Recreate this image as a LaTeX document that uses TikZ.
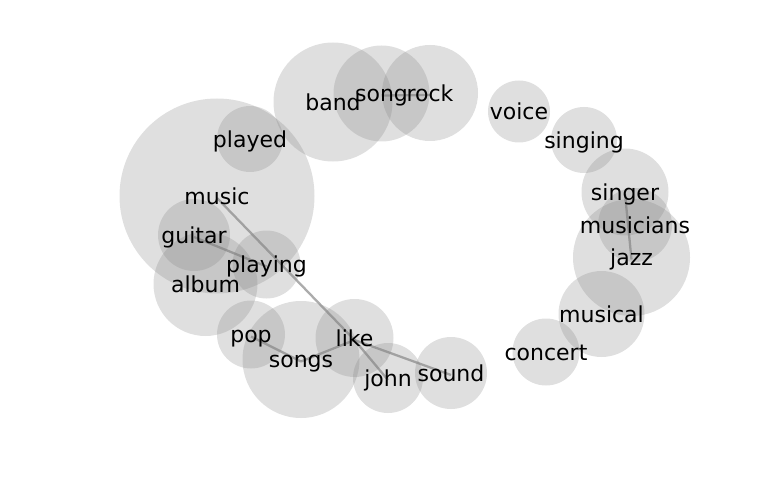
\documentclass[tikz,border=0pt]{standalone}
\usepackage{fontspec}
\setmainfont{DejaVu Sans}
\pgfdeclarelayer{bg}
\pgfdeclarelayer{edges}
\pgfsetlayers{bg,edges,main}
\tikzset{
  word/.style={inner sep=0pt, text height=16.7pt, text depth=4.6pt, yshift=-2pt,
    font=\fontsize{22}{26}\selectfont, text=black},
  bubble/.style={fill={rgb,255:red,128;green,128;blue,128}, fill opacity=0.25, draw=none},
  edge/.style={draw={rgb,255:red,128;green,128;blue,128}, draw opacity=0.65, line width=2.3pt}
}
\begin{document}
\begin{tikzpicture}[x=1pt,y=-1pt]
\useasboundingbox (0,0) rectangle (768,500);
% words: name / position / radius
\foreach \n/\x/\y/\r in {
  music/217/196/97.5, played/250/139/33, band/333/102/59.5, song/381.5/93.5/48,
  rock/430/93/48, voice/519/111.5/31, singing/584/140/33, singer/625/192/43.5,
  musicians/635/225/37, jazz/631.5/257.5/58.5, musical/601.5/314/43, concert/546/352/33.5,
  sound/451/373/36, john/388/378/35, like/354.5/338/39, songs/301/359.5/58.5,
  pop/251/334.5/34, album/205.5/284/52, guitar/194/235/36, playing/266.5/264.5/34}{
  \node[word] (\n) at (\x,\y) {\n};
  \begin{pgfonlayer}{bg}
    \fill[bubble] (\x,\y) circle (\r);
  \end{pgfonlayer}
}
\begin{pgfonlayer}{edges}
\draw[edge] (music.center) -- (like.center);
\draw[edge] (guitar.center) -- (playing.center);
\draw[edge] (pop.center) -- (songs.center);
\draw[edge] (songs.center) -- (like.center);
\draw[edge] (like.center) -- (john.center);
\draw[edge] (like.center) -- (sound.center);
\draw[edge] (song.center) -- (rock.center);
\draw[edge] (singer.center) -- (jazz.center);
\end{pgfonlayer}
\end{tikzpicture}
\end{document}
